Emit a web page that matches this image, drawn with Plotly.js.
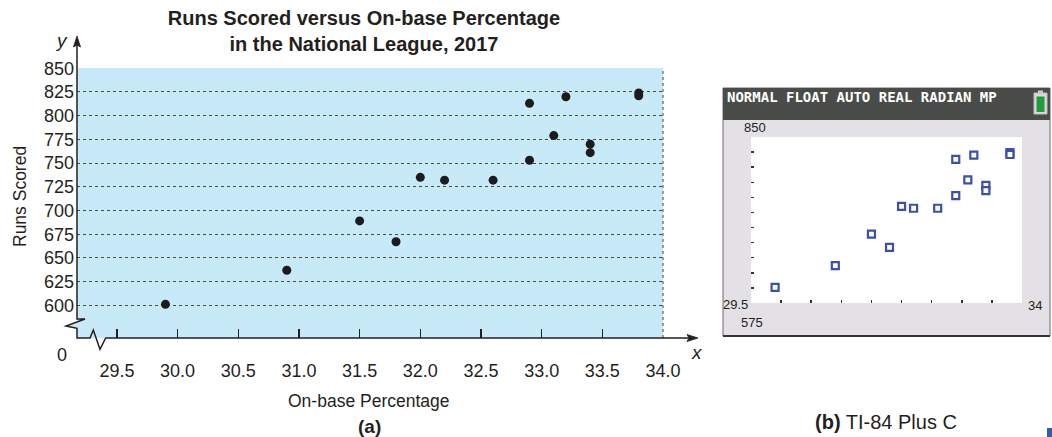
<!DOCTYPE html>
<html><head><meta charset="utf-8">
<script src="https://cdn.plot.ly/plotly-3.0.1.min.js"></script>
<style>html,body{margin:0;padding:0;background:#fff;}#chart{width:1052px;height:437px;}</style>
</head><body><div id="chart"></div>
<script>
// ---- data ----
const obp  = [29.9, 30.9, 31.5, 31.8, 32.0, 32.2, 32.6, 32.9, 32.9, 33.1, 33.2, 33.4, 33.4, 33.8, 33.8];
const runs = [601, 637, 689, 667, 735, 732, 732, 813, 753, 779, 820, 770, 761, 824, 821];
const xTickVals = [29.5, 30.0, 30.5, 31.0, 31.5, 32.0, 32.5, 33.0, 33.5, 34.0];
const xTickText = ['29.5', '30.0', '30.5', '31.0', '31.5', '32.0', '32.5', '33.0', '33.5', '34.0'];
const yTickVals = [600, 625, 650, 675, 700, 725, 750, 775, 800, 825, 850];
const calcXTicks = [29.5, 30.0, 30.5, 31.0, 31.5, 32.0, 32.5, 33.0, 33.5, 34.0];
const calcYTicks = [575, 600, 625, 650, 675, 700, 725, 750, 775, 800, 825, 850];

// ---- helpers for decorations in pixel space ----
const W = 1052, H = 437;
const px = x => x / W;
const py = y => 1 - y / H;
function pth(pts, close) {
  return pts.map((p, i) => (i ? 'L' : 'M') + px(p[0]).toFixed(5) + ',' + py(p[1]).toFixed(5)).join(' ') + (close ? ' Z' : '');
}
const INK = '#231f20';
const BLUE_BG = '#c8e9f8';
const SANS = '"Liberation Sans", Arial, sans-serif';

const traces = [
  { type: 'scatter', mode: 'markers', x: obp, y: runs, xaxis: 'x', yaxis: 'y',
    marker: { size: 9, color: '#1c1c1c' }, cliponaxis: false, hoverinfo: 'skip' },
  { type: 'scatter', mode: 'markers', x: obp, y: runs, xaxis: 'x2', yaxis: 'y2',
    marker: { symbol: 'square', size: 7, color: '#ffffff', line: { color: '#3a4fae', width: 2.2 } },
    cliponaxis: false, hoverinfo: 'skip' }
];

const shapes = [
  // calculator screen
  { type: 'rect', xref: 'paper', yref: 'paper', x0: px(723), x1: px(1050), y0: py(336), y1: py(88),
    fillcolor: '#e4e1e6', line: { color: '#6a6a6a', width: 1 }, layer: 'below' },
  { type: 'rect', xref: 'paper', yref: 'paper', x0: px(723), x1: px(1050), y0: py(120), y1: py(88),
    fillcolor: '#4a4c49', line: { width: 0 }, layer: 'below' },
  { type: 'line', xref: 'paper', yref: 'paper', x0: px(723), x1: px(1050), y0: py(336), y1: py(336),
    line: { color: '#333', width: 2 } },
  // battery
  { type: 'rect', xref: 'paper', yref: 'paper', x0: px(1038), x1: px(1043), y0: py(93), y1: py(90.5),
    fillcolor: '#cfcfcf', line: { width: 0 } },
  { type: 'rect', xref: 'paper', yref: 'paper', x0: px(1034), x1: px(1047), y0: py(114), y1: py(93),
    fillcolor: '#d9d9d9', line: { color: '#bdbdbd', width: 1 } },
  { type: 'rect', xref: 'paper', yref: 'paper', x0: px(1036.5), x1: px(1044.5), y0: py(112), y1: py(96.5),
    fillcolor: '#1f9c3e', line: { width: 0 } },
  // calculator plot area
  { type: 'rect', xref: 'x2 domain', yref: 'y2 domain', x0: 0, x1: 1, y0: 0, y1: 1,
    fillcolor: '#ffffff', line: { width: 0 }, layer: 'below' },
  // main plot area
  { type: 'rect', xref: 'x domain', yref: 'y domain', x0: 0, x1: 1, y0: 0, y1: 1,
    fillcolor: BLUE_BG, line: { width: 0 }, layer: 'below' },
  { type: 'line', xref: 'x domain', yref: 'y domain', x0: 1, x1: 1, y0: 0, y1: 1,
    line: { color: '#444', width: 1, dash: 'dot' } },
  // axis break notch fill
  { type: 'path', xref: 'paper', yref: 'paper', path: pth([[77, 321.9], [66, 326], [77, 328.3]], true),
    fillcolor: BLUE_BG, line: { width: 0 } },
  // axes with breaks
  { type: 'path', xref: 'paper', yref: 'paper',
    path: pth([[77, 44], [77, 319], [85, 319], [66, 326], [77, 328.3], [77, 338], [90, 338], [93.3, 330], [100, 349.3], [105.7, 338], [690, 338]], false),
    fillcolor: 'rgba(0,0,0,0)', line: { color: INK, width: 1.5 } },
  // arrowheads
  { type: 'path', xref: 'paper', yref: 'paper', path: pth([[77, 36], [80.5, 47], [77, 45], [73.5, 47]], true),
    fillcolor: INK, line: { color: INK, width: 0.8 } },
  { type: 'path', xref: 'paper', yref: 'paper', path: pth([[698, 338], [687, 334.5], [689, 338], [687, 341.5]], true),
    fillcolor: INK, line: { color: INK, width: 0.8 } },
  // small blue mark bottom right
  { type: 'rect', xref: 'paper', yref: 'paper', x0: px(1047), x1: px(1052), y0: py(437), y1: py(428),
    fillcolor: '#2f5fae', line: { width: 0 } }
];

function ann(text, x, y, opts) {
  return Object.assign({ text: text, xref: 'paper', yref: 'paper', x: px(x), y: py(y),
    xanchor: 'center', yanchor: 'middle', showarrow: false,
    font: { family: SANS, size: 17.5, color: INK } }, opts || {});
}

const annotations = [
  ann('Runs Scored', 20, 197, { textangle: -90 }),
  ann('On-base Percentage', 369, 401),
  ann('<b>(a)</b>', 369, 426, { font: { family: SANS, size: 19, color: INK } }),
  ann('0', 62, 355, { font: { family: SANS, size: 18, color: INK } }),
  ann('<i>y</i>', 61, 40, { font: { family: SANS, size: 19, color: INK } }),
  ann('<i>x</i>', 697, 352, { font: { family: SANS, size: 19, color: INK } }),
  ann('NORMAL FLOAT AUTO REAL RADIAN MP', 725, 97,
      { xanchor: 'left', font: { family: '"DejaVu Sans Mono", monospace', size: 14, color: '#ffffff', weight: 'bold' } }),
  ann('850', 755, 127, { font: { family: SANS, size: 13, color: '#222' } }),
  ann('29.5', 735, 304, { font: { family: SANS, size: 13, color: '#222' } }),
  ann('575', 751.5, 322.5, { font: { family: SANS, size: 13, color: '#222' } }),
  ann('34', 1034.5, 305, { font: { family: SANS, size: 13, color: '#222' } }),
  ann('<b>(b)</b> TI-84 Plus C', 813, 422, { xanchor: 'left', font: { family: SANS, size: 20, color: INK } })
];

const layout = {
  width: W, height: H,
  margin: { l: 0, r: 0, t: 0, b: 0 },
  paper_bgcolor: '#ffffff',
  plot_bgcolor: 'rgba(0,0,0,0)',
  showlegend: false,
  font: { family: SANS, size: 18, color: INK },
  title: {
    text: '<b>Runs Scored versus On-base Percentage<br>in the National League, 2017</b>',
    font: { family: SANS, size: 20, color: INK },
    xref: 'paper', x: px(364), xanchor: 'center',
    yref: 'container', y: py(25), yanchor: 'top'
  },
  xaxis: {
    domain: [px(77), px(663)], range: [29.171, 34.0], anchor: 'y',
    tickmode: 'array', tickvals: xTickVals, ticktext: xTickText,
    ticks: 'inside', ticklen: 9, tickwidth: 1.5, tickcolor: INK,
    ticklabelstandoff: 20,
    showline: false, showgrid: false, zeroline: false,
    tickfont: { family: SANS, size: 18, color: INK }, fixedrange: true
  },
  yaxis: {
    domain: [py(338), py(68)], range: [565.5, 850.3], anchor: 'x',
    tickmode: 'array', tickvals: yTickVals,
    ticks: '', ticklabelstandoff: 2,
    showline: false, zeroline: false,
    showgrid: true, gridcolor: '#4a4a4a', gridwidth: 1, griddash: 'dot',
    tickfont: { family: SANS, size: 18, color: INK }, fixedrange: true
  },
  xaxis2: {
    domain: [px(751), px(1022)], range: [29.5, 34], anchor: 'y2',
    tickmode: 'array', tickvals: calcXTicks, showticklabels: false,
    ticks: 'inside', ticklen: 3, tickwidth: 1.5, tickcolor: '#333',
    showline: false, showgrid: false, zeroline: false, fixedrange: true
  },
  yaxis2: {
    domain: [py(303), py(137)], range: [575, 850], anchor: 'x2',
    tickmode: 'array', tickvals: calcYTicks, showticklabels: false,
    ticks: 'inside', ticklen: 3, tickwidth: 1.5, tickcolor: '#333',
    showline: false, showgrid: false, zeroline: false, fixedrange: true
  },
  shapes: shapes,
  annotations: annotations
};

Plotly.newPlot('chart', traces, layout, { staticPlot: true, displayModeBar: false });
</script>
</body></html>
